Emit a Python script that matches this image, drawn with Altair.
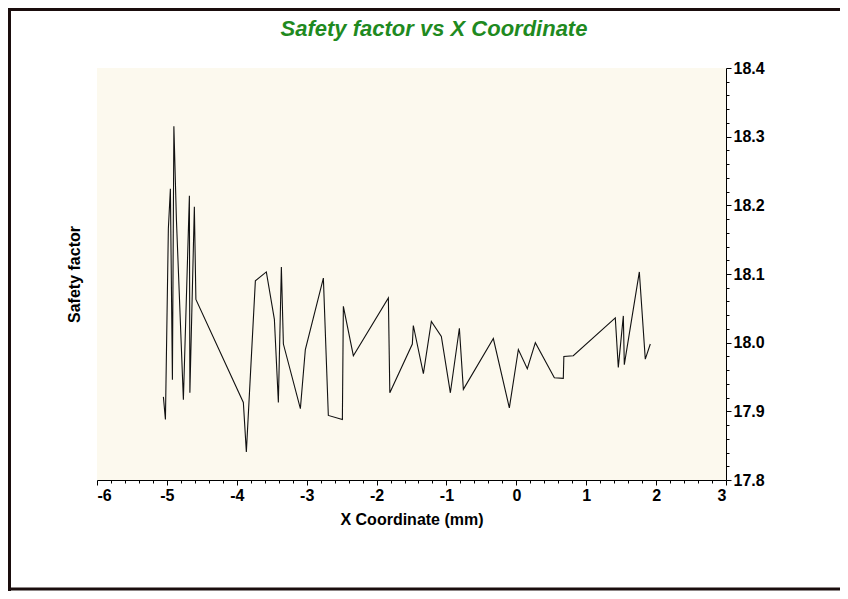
import altair as alt
import pandas as pd

# ---- data ----
x_mm = [-5.050, -5.021, -4.979, -4.950, -4.921, -4.900, -4.864, -4.764, -4.678, -4.671,
        -4.607, -4.585, -3.906, -3.863, -3.734, -3.577, -3.462, -3.405, -3.362, -3.333,
        -3.090, -3.019, -2.761, -2.690, -2.489, -2.475, -2.332, -1.831, -1.810, -1.488,
        -1.474, -1.330, -1.216, -1.073, -0.944, -0.815, -0.758, -0.329, -0.100, 0.029,
        0.157, 0.272, 0.544, 0.672, 0.680, 0.815, 1.416, 1.459, 1.531, 1.545,
        1.760, 1.845, 1.917]
safety = [17.921, 17.888, 18.166, 18.224, 17.946, 18.315, 18.180, 17.917, 18.214, 17.927,
          18.198, 18.063, 17.913, 17.841, 18.090, 18.103, 18.034, 17.913, 18.110, 17.998,
          17.904, 17.990, 18.094, 17.894, 17.888, 18.053, 17.981, 18.065, 17.927, 17.998,
          18.025, 17.955, 18.031, 18.009, 17.927, 18.021, 17.932, 18.006, 17.905, 17.990,
          17.962, 18.000, 17.949, 17.948, 17.980, 17.981, 18.036, 17.964, 18.039, 17.968,
          18.103, 17.976, 17.998]
x_ticks = [round(-6 + 0.2 * i, 1) for i in range(46)]
y_ticks = [round(17.8 + 0.02 * i, 2) for i in range(31)]

title_text = "Safety factor  vs X Coordinate"
x_title = "X Coordinate (mm)"
y_title = "Safety factor"

df = pd.DataFrame({"i": list(range(len(x_mm))), "x": x_mm, "sf": safety})
one = pd.DataFrame({"k": [0]})

FONT = "Liberation Sans"

x_major = "abs(datum.value - round(datum.value)) < 0.001"
y_major = "abs(datum.value * 10 - round(datum.value * 10)) < 0.001"

x_axis = alt.Axis(
    orient="bottom", values=x_ticks, grid=False, title=x_title,
    labelExpr=f"{x_major} ? '' + round(datum.value) : ''",
    labelOverlap=False, labelFont=FONT, labelFontSize=16, labelFontWeight="bold",
    labelColor="black", labelPadding=2,
    tickSize={"condition": {"test": x_major, "value": 5}, "value": 3},
    tickColor="black", domainColor="black",
    titleFont=FONT, titleFontSize=16, titleFontWeight="bold", titleColor="black",
    titlePadding=8,
)
x_enc = alt.X("x:Q", scale=alt.Scale(domain=[-6, 3], nice=False, zero=False), axis=x_axis)

y_scale = alt.Scale(domain=[17.8, 18.4], nice=False, zero=False)
y_right = alt.Axis(
    orient="right", values=y_ticks, grid=False, title="",
    labelExpr=f"{y_major} ? format(datum.value, '.1f') : ''",
    labelOverlap=False, labelFont=FONT, labelFontSize=16, labelFontWeight="bold",
    labelColor="black", labelPadding=2,
    tickSize={"condition": {"test": y_major, "value": 5}, "value": 3},
    tickColor="black", domainColor="black",
)
y_left = alt.Axis(
    orient="left", title=y_title, labels=False, ticks=False, domain=False, grid=False,
    titleFont=FONT, titleFontSize=16, titleFontWeight="bold", titleColor="black",
    titlePadding=15,
)

line = alt.Chart(df).mark_line(color="#111111", strokeWidth=1.1).encode(
    x=x_enc,
    y=alt.Y("sf:Q", scale=y_scale, axis=y_right),
    order="i:Q",
)
ghost = alt.Chart(df).mark_line(opacity=0).encode(
    x=x_enc,
    y=alt.Y("sf:Q", scale=y_scale, axis=y_left),
    order="i:Q",
)

title_mark = alt.Chart(one).mark_text(
    font=FONT, fontSize=22, fontStyle="italic", fontWeight="bold", color="#1f8a1f",
    align="center", baseline="alphabetic",
).encode(x=alt.value(337), y=alt.value(-32), text=alt.value(title_text))

frame_color = "#1a0d0d"
top_rule = alt.Chart(one).mark_rule(color=frame_color, strokeWidth=3).encode(
    x=alt.value(-89), x2=alt.value(760), y=alt.value(-58.5))
left_rule = alt.Chart(one).mark_rule(color=frame_color, strokeWidth=3).encode(
    x=alt.value(-87.5), y=alt.value(-60), y2=alt.value(523))
bottom_rule = alt.Chart(one).mark_rule(color=frame_color, strokeWidth=3).encode(
    x=alt.value(-89), x2=alt.value(760), y=alt.value(521))

chart = alt.layer(ghost, line, title_mark, top_rule, left_rule, bottom_rule).resolve_axis(
    y="independent"
).properties(
    width=629, height=412,
    autosize=alt.AutoSizeParams(type="none"),
    padding={"left": 89, "top": 60, "right": 114, "bottom": 111},
    background="white",
).configure_view(fill="#FCF9EE", strokeWidth=0)

chart.save("out.html", embed_options={"renderer": "svg", "actions": False})
